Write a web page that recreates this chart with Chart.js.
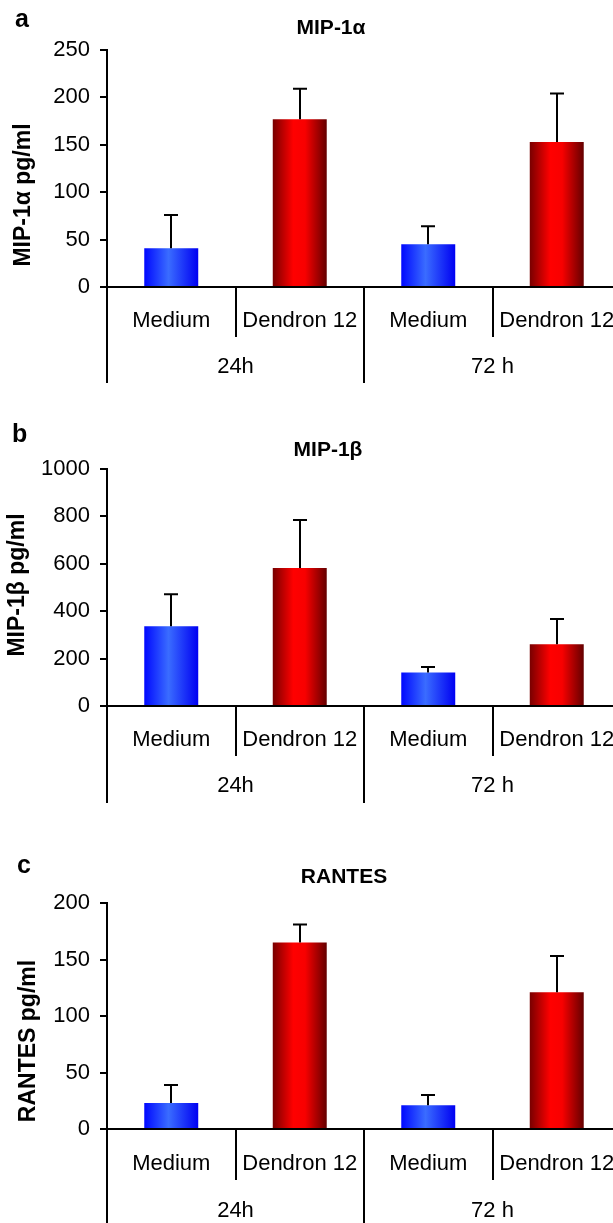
<!DOCTYPE html>
<html>
<head>
<meta charset="utf-8">
<script src="https://cdn.jsdelivr.net/npm/chart.js@4.4.1/dist/chart.umd.min.js"></script>
<style>
  html, body { margin: 0; padding: 0; background: #fff; overflow: hidden; width: 613px; height: 1223px; }
  canvas { position: absolute; left: 0; }
</style>
</head>
<body>
<canvas id="chartA" width="640" height="400" style="top:0px"></canvas>
<canvas id="chartB" width="640" height="409" style="top:410px"></canvas>
<canvas id="chartC" width="640" height="383" style="top:840px"></canvas>
<script>
const categories = ['Medium', 'Dendron 12', 'Medium', 'Dendron 12'];
const timeGroups = ['24h', '72 h'];

// means and upper error (SD)
const mip1aMean = [41, 177, 45, 153];
const mip1aSd = [35, 32, 19, 51];
const mip1bMean = [337, 582, 141, 261];
const mip1bSd = [134, 203, 24, 106];
const rantesMean = [23, 165, 21, 121];
const rantesSd = [16, 16, 9, 32];

const mip1aTicks = [0, 50, 100, 150, 200, 250];
const mip1bTicks = [0, 200, 400, 600, 800, 1000];
const rantesTicks = [0, 50, 100, 150, 200];

const FONT = '"Liberation Sans", Arial, Helvetica, sans-serif';
const PLOT_RIGHT = 621; // last category runs off the page edge

function barGradient(c) {
    const chart = c.chart;
    const x = chart.scales.x;
    if (!chart.chartArea || !x || c.dataIndex === undefined) return '#888';
    const center = x.getPixelForValue(c.dataIndex);
    const half = (x.getPixelForValue(1) - x.getPixelForValue(0)) * 0.42 / 2;
    const g = chart.ctx.createLinearGradient(center - half, 0, center + half, 0);
    if (categories[c.dataIndex] === 'Medium') {
        g.addColorStop(0, '#0008ff');
        g.addColorStop(0.45, '#3a6cff');
        g.addColorStop(1, '#0000f2');
    } else {
        g.addColorStop(0, '#780000');
        g.addColorStop(0.38, '#ff0000');
        g.addColorStop(0.6, '#f80000');
        g.addColorStop(1, '#640000');
    }
    return g;
}

const panelDecor = {
    id: 'panelDecor',
    afterDatasetsDraw(chart, args, opts) {
        const ctx = chart.ctx;
        const x = chart.scales.x, y = chart.scales.y;
        const means = chart.data.datasets[0].data;
        ctx.save();
        ctx.strokeStyle = '#000';
        ctx.lineWidth = 2;
        means.forEach((m, i) => {
            const px = Math.round(x.getPixelForValue(i));
            const top = y.getPixelForValue(m + opts.sd[i]);
            ctx.beginPath();
            ctx.moveTo(px, y.getPixelForValue(m));
            ctx.lineTo(px, top);
            ctx.moveTo(px - 7, top);
            ctx.lineTo(px + 7, top);
            ctx.stroke();
        });
        ctx.restore();
    },
    afterDraw(chart, args, opts) {
        const ctx = chart.ctx;
        const x = chart.scales.x;
        const bottom = chart.chartArea.bottom;
        const half = (x.getPixelForValue(1) - x.getPixelForValue(0)) / 2;
        const perGroup = categories.length / timeGroups.length;
        ctx.save();
        ctx.strokeStyle = '#000';
        ctx.lineWidth = 2;
        for (let i = 0; i <= categories.length; i++) {
            const px = i < categories.length ? x.getPixelForValue(i) - half : x.getPixelForValue(i - 1) + half;
            const len = i % perGroup === 0 ? opts.longLen : opts.shortLen;
            ctx.beginPath();
            ctx.moveTo(Math.round(px), bottom);
            ctx.lineTo(Math.round(px), bottom + len);
            ctx.stroke();
        }
        ctx.fillStyle = '#000';
        ctx.textAlign = 'center';
        ctx.textBaseline = 'middle';
        ctx.font = '22px ' + FONT;
        timeGroups.forEach((g, k) => {
            const a = x.getPixelForValue(k * perGroup);
            const b = x.getPixelForValue(k * perGroup + perGroup - 1);
            ctx.fillText(g, (a + b) / 2, bottom + opts.groupY);
        });

        ctx.font = 'bold 21px ' + FONT;
        ctx.fillText(opts.title, opts.titleX, opts.titleY);

        ctx.textAlign = 'left';
        ctx.textBaseline = 'alphabetic';
        ctx.font = 'bold 25px ' + FONT;
        ctx.fillText(opts.letter, opts.letterX, opts.letterY);

        ctx.translate(opts.ylabX, opts.ylabY);
        ctx.rotate(-Math.PI / 2);
        ctx.textAlign = 'center';
        ctx.textBaseline = 'middle';
        ctx.font = 'bold 23px ' + FONT;
        ctx.fillText(opts.ylabel, 0, 0);
        ctx.restore();
    }
};

function makePanel(id, means, sd, ticks, padTop, axisHeight, labelPad, decor) {
    const canvas = document.getElementById(id);
    return new Chart(canvas, {
        type: 'bar',
        data: {
            labels: categories,
            datasets: [{
                data: means,
                backgroundColor: barGradient,
                borderWidth: 0,
                barPercentage: 0.42,
                categoryPercentage: 1
            }]
        },
        options: {
            responsive: false,
            animation: false,
            layout: { padding: { top: padTop, left: 0, right: 0, bottom: 0 } },
            plugins: {
                legend: { display: false },
                tooltip: { enabled: false },
                panelDecor: Object.assign({ sd: sd }, decor)
            },
            scales: {
                x: {
                    afterFit: (s) => { s.height = axisHeight; s.paddingLeft = 0; s.paddingRight = canvas.width - PLOT_RIGHT; },
                    grid: { display: false, drawTicks: false },
                    border: { display: true, color: '#000', width: 2 },
                    ticks: { color: '#000', font: { family: FONT, size: 22 }, padding: labelPad, maxRotation: 0, autoSkip: false }
                },
                y: {
                    min: ticks[0],
                    max: ticks[ticks.length - 1],
                    afterFit: (s) => { s.width = 107; },
                    grid: { drawOnChartArea: false, drawTicks: true, tickLength: 7, color: '#000', lineWidth: 2 },
                    border: { display: true, color: '#000', width: 2 },
                    ticks: {
                        stepSize: ticks[1] - ticks[0],
                        color: '#000',
                        font: { family: FONT, size: 22 },
                        padding: 10,
                        callback: (v) => String(v)
                    }
                }
            }
        },
        plugins: [panelDecor]
    });
}

makePanel('chartA', mip1aMean, mip1aSd, mip1aTicks, 50, 113, 21, {
    title: 'MIP-1α', titleX: 331, titleY: 28,
    letter: 'a', letterX: 15, letterY: 27,
    ylabel: 'MIP-1α pg/ml', ylabX: 24, ylabY: 195,
    shortLen: 50, longLen: 96, groupY: 80
});
makePanel('chartB', mip1bMean, mip1bSd, mip1bTicks, 59, 113, 21, {
    title: 'MIP-1β', titleX: 328, titleY: 40,
    letter: 'b', letterX: 12, letterY: 32,
    ylabel: 'MIP-1β pg/ml', ylabX: 18, ylabY: 175,
    shortLen: 50, longLen: 97, groupY: 80
});
makePanel('chartC', rantesMean, rantesSd, rantesTicks, 63, 94, 22, {
    title: 'RANTES', titleX: 344, titleY: 37,
    letter: 'c', letterX: 17, letterY: 33,
    ylabel: 'RANTES pg/ml', ylabX: 29, ylabY: 201,
    shortLen: 51, longLen: 100, groupY: 82
});
</script>
</body>
</html>
